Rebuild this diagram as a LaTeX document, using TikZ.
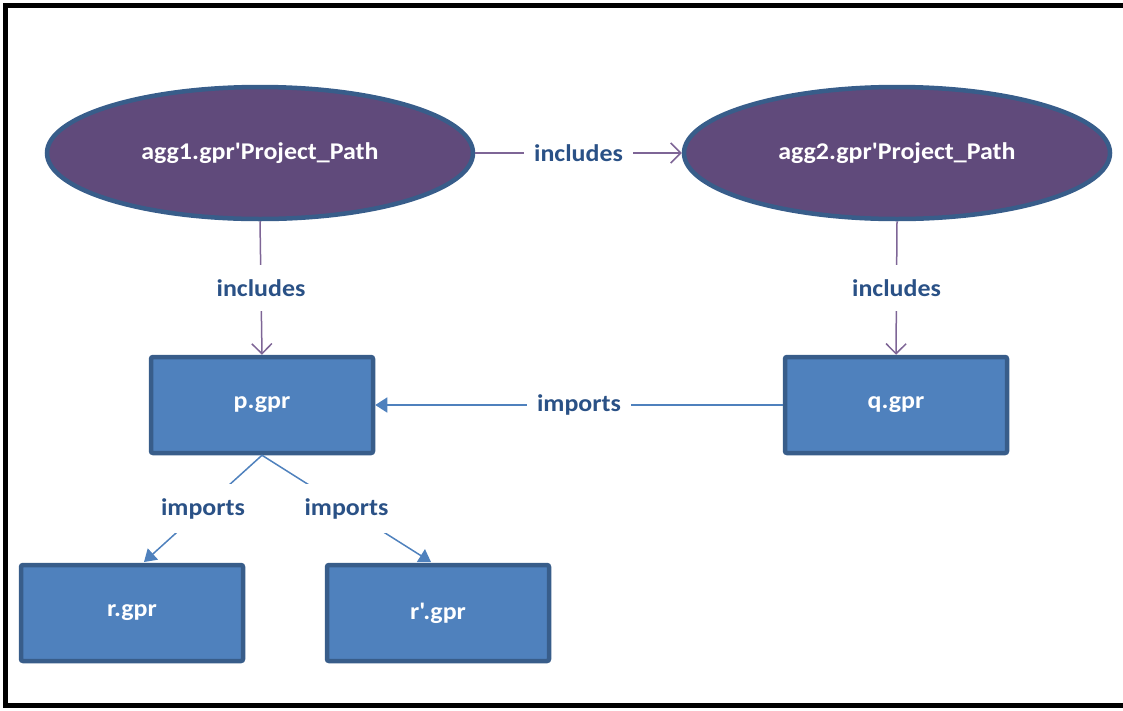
\documentclass[tikz,border=0pt]{standalone}
\usepackage{fontspec}
\newfontfamily\carl{Carlito}[FakeStretch=1.08]
\usetikzlibrary{shapes.geometric,arrows.meta}
\definecolor{ellfill}{HTML}{604A7B}
\definecolor{shapeedge}{HTML}{385D8A}
\definecolor{boxfill}{HTML}{4F81BD}
\definecolor{inclline}{HTML}{7E6596}
\definecolor{impline}{HTML}{4F81BD}
\definecolor{lbltext}{HTML}{2A5186}
\tikzset{
  ellnode/.style={ellipse, draw=shapeedge, line width=4.5pt, fill=ellfill,
    minimum width=426pt, minimum height=132pt, inner sep=0pt,
    text=white, font=\carl\fontsize{24}{28}\selectfont\bfseries},
  boxnode/.style={rectangle, rounded corners=2pt, draw=shapeedge, line width=4.5pt, fill=boxfill,
    minimum width=222pt, minimum height=96pt, inner sep=0pt,
    text=white, font=\carl\fontsize{24}{28}\selectfont\bfseries},
  lbl/.style={fill=white, inner xsep=10pt, inner ysep=14pt, text=lbltext,
    font=\carl\fontsize{24}{28}\selectfont\bfseries},
  incl/.style={draw=inclline, line width=1.5pt, -{Straight Barb[length=10pt,width=20pt]}},
  imp/.style={draw=impline, line width=1.5pt, -{Triangle[length=12pt,width=15pt]}},
  frame/.style={draw=black, line width=5pt}
}
\begin{document}
\begin{tikzpicture}[x=1pt,y=-1pt]
\useasboundingbox (0,0) rectangle (1123,710);
\draw[frame] (1123,5.5) -- (5.5,5.5) -- (5.5,705.5) -- (1123,705.5);

\node[ellnode] (agg1) at (260,153) {agg1.gpr'Project\_Path};
\node[ellnode] (agg2) at (897,153) {agg2.gpr'Project\_Path};
\node[boxnode] (p) at (262,405) {p.gpr};
\node[boxnode] (q) at (896,405) {q.gpr};
\node[boxnode] (r) at (132,613) {r.gpr};
\node[boxnode] (rp) at (438,613) {r'.gpr};

\coordinate (rtip) at (144,562);
\coordinate (rptip) at (431,562);

\draw[incl] (agg1.east) -- node[lbl] {includes} (agg2.west);
\draw[incl] (agg1.south) -- node[lbl] {includes} (p.north);
\draw[incl] (agg2.south) -- node[lbl] {includes} (q.north);
\draw[imp] (q.west) -- node[lbl, pos=0.5] {imports} (p.east);
\draw[imp] (p.south) -- node[lbl] {imports} (rtip);
\draw[imp] (p.south) -- node[lbl] {imports} (rptip);
\end{tikzpicture}
\end{document}
